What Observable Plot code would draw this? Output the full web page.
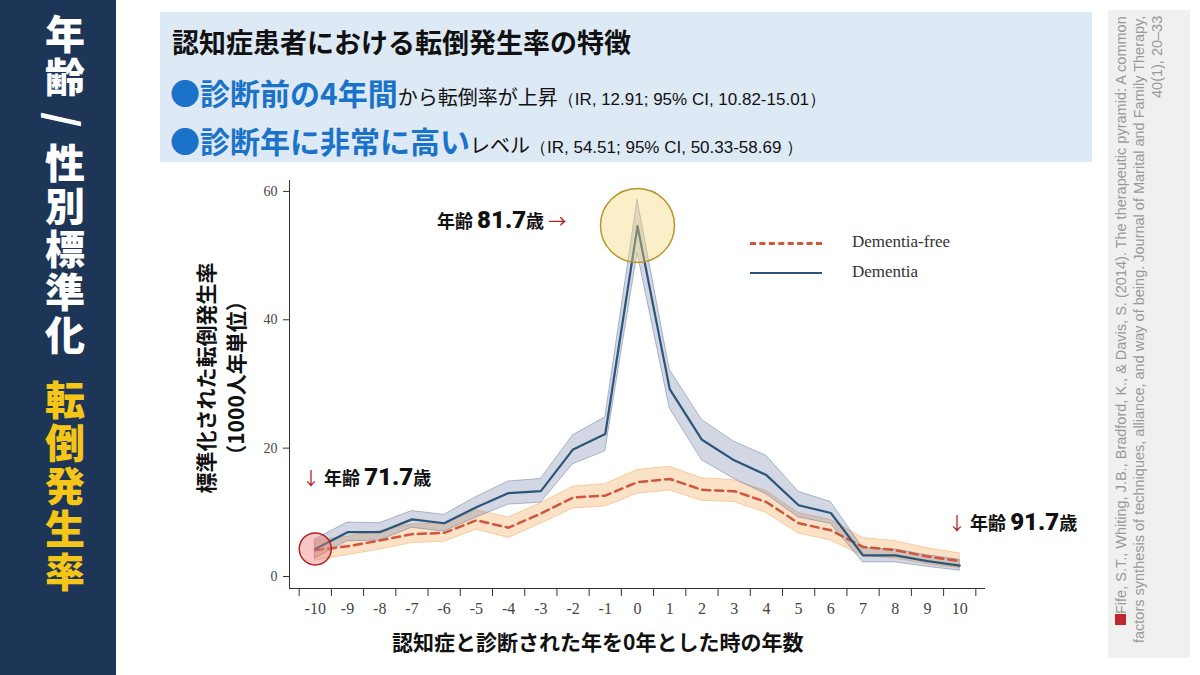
<!DOCTYPE html>
<html><head><meta charset="utf-8">
<script src="https://cdn.jsdelivr.net/npm/d3@7"></script>
<script src="https://cdn.jsdelivr.net/npm/@observablehq/plot@0.6"></script>
<style>
body{margin:0;width:1200px;height:675px;background:#fff;position:relative;overflow:hidden;font-family:"Noto Sans CJK JP","Noto Sans",sans-serif}
.abs{position:absolute}
#side{left:0;top:0;width:116px;height:675px;background:#1d3557;}
.vt{writing-mode:vertical-rl;font-weight:900;font-size:40px;letter-spacing:3px;position:absolute;left:36px}
#box{left:160px;top:12px;width:932px;height:150px;background:#dde9f5}
#cite{left:1108px;top:10px;width:82px;height:648px;background:#f0f0f0}
.ann{font-weight:700;font-size:18px;color:#111;white-space:nowrap}
.ann b{font-size:24px;font-family:"Roboto","Noto Sans",sans-serif}
.arr{color:#b22222;font-weight:400}
.ir{font-family:'Liberation Sans',Arial,sans-serif;font-size:17px}
</style></head><body>
<div id="side" class="abs">
 <div class="vt" style="top:14px;color:#fff">年齢 / 性別標準化</div>
 <div class="vt" style="top:380px;color:#f5c518">転倒発生率</div>
</div>
<div id="box" class="abs">
 <div class="abs" style="left:12px;top:10px;font-size:27px;font-weight:700;color:#111">認知症患者における転倒発生率の特徴</div>
 <div class="abs" style="left:10px;top:58px;white-space:nowrap;color:#111"><span style="color:#1a73c8;font-size:30px;font-weight:700">●診断前の4年間</span><span style="font-size:20px">から転倒率が上昇</span><span class="ir">（IR, 12.91; 95% CI, 10.82-15.01）</span></div>
 <div class="abs" style="left:10px;top:106px;white-space:nowrap;color:#111"><span style="color:#1a73c8;font-size:30px;font-weight:700">●診断年に非常に高い</span><span style="font-size:20px">レベル</span><span class="ir">（IR, 54.51; 95% CI, 50.33-58.69 ）</span></div>
</div>
<div id="cite" class="abs"><div class="abs" style="left:4px;top:6px;width:74px;height:636px;writing-mode:vertical-rl;transform:rotate(180deg);font-family:'Liberation Sans',Arial,sans-serif;font-size:14.5px;color:#999;line-height:18px;text-align:right"><span style="display:inline-block;width:11px;height:11px;background:#c0262d"></span>Fife, S.T., Whiting, J.B., Bradford, K., &amp; Davis, S. (2014). The therapeutic pyramid: A common factors synthesis of techniques, alliance, and way of being. Journal of Marital and Family Therapy, 40(1), 20–33</div></div>
<div id="chart" class="abs" style="left:160px;top:170px"></div>
<div class="abs" style="left:160px;top:378px;width:0;height:0"><div style="position:absolute;transform:translate(-50%,-50%) rotate(-90deg);left:60px;top:0;white-space:nowrap;text-align:center;font-weight:700;font-size:21px;line-height:30px;color:#111">標準化された転倒発生率<br>（1000人年単位）</div></div>
<div class="abs" style="left:392px;top:626px;font-size:21px;font-weight:700;color:#111">認知症と診断された年を0年とした時の年数</div>
<div class="abs ann" style="left:437px;top:206px">年齢 <b>81.7</b>歳 <span class="arr">→</span></div>
<div class="abs ann" style="left:302px;top:463px"><span class="arr">↓</span> 年齢 <b>71.7</b>歳</div>
<div class="abs ann" style="left:948px;top:508px"><span class="arr">↓</span> 年齢 <b>91.7</b>歳</div>
<div class="abs" style="left:750px;top:227px;font-family:'Liberation Serif',serif;font-size:17px;color:#333;line-height:30px">
 <div><span style="display:inline-block;width:72px;border-top:3px dashed #d0553a;vertical-align:middle;margin-right:30px"></span>Dementia-free</div>
 <div><span style="display:inline-block;width:72px;border-top:2.5px solid #2b5579;vertical-align:middle;margin-right:30px"></span>Dementia</div>
</div>
<script>
const years=d3.range(-10,11);
const dementia=[4.3,6.9,6.9,8.9,8.3,10.8,13.0,13.3,19.8,22.2,54.6,29.2,21.3,18.1,15.8,11.1,9.9,3.3,3.3,2.4,1.7];
const demLo=[2.8,5.5,5.6,7.6,7.0,9.2,11.2,11.5,17.5,19.5,50.4,26.2,18.1,15.2,12.8,9.2,8.2,2.2,2.2,1.5,0.9];
const demHi=[5.8,8.4,8.3,10.2,9.6,12.4,14.8,15.2,22.0,24.8,58.7,32.2,24.4,21.0,18.8,13.2,11.6,4.4,4.2,3.3,2.6];
const free=[4.1,4.7,5.6,6.6,6.8,8.75,7.6,9.8,12.3,12.6,14.7,15.2,13.5,13.3,11.6,8.3,7.2,4.6,4.1,3.1,2.4];
const freeLo=[2.5,3.3,4.2,5.2,5.4,7.3,6.0,8.2,10.6,10.9,12.9,13.4,11.8,11.6,9.9,6.7,5.6,3.2,2.8,1.9,1.3];
const freeHi=[5.6,6.2,7.1,8.1,8.3,10.3,9.2,11.4,14.0,14.4,16.6,17.1,15.3,15.0,13.3,9.9,8.8,6.0,5.5,4.4,3.6];
const yTicks=[0,20,40,60];
const D=years.map((x,i)=>({x,dem:dementia[i],dl:demLo[i],dh:demHi[i],fr:free[i],fl:freeLo[i],fh:freeHi[i]}));
const plot=Plot.plot({
 width:850,height:460,marginLeft:129,marginRight:25,marginTop:10,marginBottom:42,
 style:{fontFamily:"'Liberation Serif',serif",fontSize:"14px",color:"#444",background:"transparent"},
 x:{domain:[-10.8,10.8],axis:null,label:null},
 y:{domain:[-1.87,61.7],axis:null,label:null},
 marks:[
  Plot.areaY(D,{x:"x",y1:"fl",y2:"fh",fill:"#f4a85a",fillOpacity:0.35,stroke:"#f4a85a",strokeOpacity:0.5}),
  Plot.areaY(D,{x:"x",y1:"dl",y2:"dh",fill:"#6a7aa3",fillOpacity:0.3,stroke:"#6a7aa3",strokeOpacity:0.5}),
  Plot.lineY(D,{x:"x",y:"fr",stroke:"#d0553a",strokeWidth:2.5,strokeDasharray:"8,5"}),
  Plot.lineY(D,{x:"x",y:"dem",stroke:"#2b5579",strokeWidth:2.2}),
  Plot.dot([{x:-10,y:4.3}],{x:"x",y:"y",r:16,fill:"#f08080",fillOpacity:0.45,stroke:"#b22222",strokeWidth:1.5}),
  Plot.dot([{x:0,y:54.7}],{x:"x",y:"y",r:37,fill:"#f5d77a",fillOpacity:0.4,stroke:"#b8962a",strokeWidth:1.5}),
  Plot.ruleX([-10.8],{y1:-1.87,y2:61.7,stroke:"#333"}),
  Plot.ruleY([-1.87],{x1:-10.8,x2:10.8,stroke:"#333"}),
  Plot.axisY(yTicks,{anchor:"left",tickSize:6,tickPadding:6,stroke:"#333",label:null}),
  Plot.axisX(d3.range(-10.5,11,1),{tickSize:8,tickFormat:()=>"",stroke:"#333",label:null}),
  Plot.axisX(years,{tickSize:0,tickPadding:14,fontSize:16,fill:"#444",tickFormat:d=>String(d),label:null})
 ]
});
document.getElementById("chart").append(plot);
</script>
</body></html>
